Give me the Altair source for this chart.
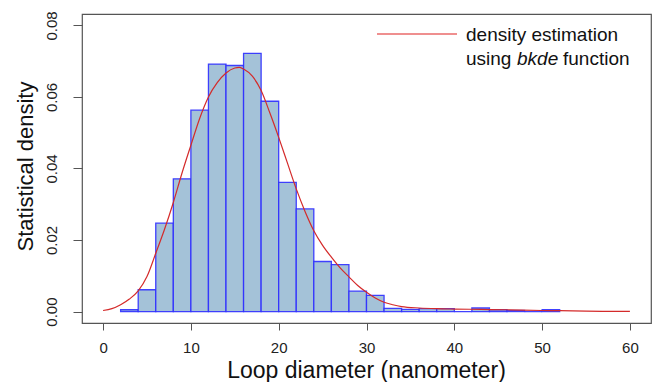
import altair as alt
import pandas as pd

# Histogram (bin start, density), bin width 2
bin_start = [2, 4, 6, 8, 10, 12, 14, 16, 18, 20, 22, 24, 26, 28, 30, 32, 34, 36, 38, 40, 42, 44, 46, 48, 50]
bin_density = [0.0005, 0.0061, 0.0247, 0.0371, 0.0563, 0.0692, 0.0688, 0.0722, 0.0588, 0.0361,
               0.0287, 0.0140, 0.0131, 0.0057, 0.0045, 0.0009, 0.0006, 0.0008, 0.0008, 0.0,
               0.0010, 0.0005, 0.0003, 0.0, 0.0005]
bin_width = 2

# Kernel density estimate
kde_x = [0, 1, 2, 3, 4, 5, 6, 7, 8, 9, 10, 11, 12, 13, 14, 15, 15.5, 16, 17, 18, 19, 20, 21, 22, 23,
         24, 25, 26, 27, 28, 29, 30, 31, 32, 33, 34, 36, 38, 40, 43, 46, 50, 52, 55, 60]
kde_y = [0.0003, 0.0008, 0.0019, 0.0035, 0.0058, 0.0098, 0.0163, 0.0230, 0.0305, 0.0388, 0.0465,
         0.0540, 0.0600, 0.0640, 0.0667, 0.0681, 0.0683, 0.0678, 0.0658, 0.0618, 0.0555, 0.0487,
         0.0415, 0.0343, 0.0280, 0.0226, 0.0185, 0.0152, 0.0122, 0.0097, 0.0073, 0.0054, 0.0038,
         0.0026, 0.0019, 0.0014, 0.0010, 0.0008, 0.0007, 0.0006, 0.0005, 0.0003, 0.00025, 0.00012, 0.00004]

x_ticks = [0, 10, 20, 30, 40, 50, 60]
y_ticks = [0.00, 0.02, 0.04, 0.06, 0.08]

legend_line1 = "density estimation"
legend_words = ["using", "bkde", "function"]

FONT = "Liberation Sans"

hist_df = pd.DataFrame({
    "x0": bin_start,
    "x1": [b + bin_width for b in bin_start],
    "d": bin_density,
})
kde_df = pd.DataFrame({"x": kde_x, "y": kde_y})
one = pd.DataFrame({"k": [0]})

xscale = alt.Scale(domain=[-2.4, 62.4], nice=False, zero=False)
yscale = alt.Scale(domain=[-0.0032, 0.0832], nice=False, zero=False)

xaxis = alt.Axis(values=x_ticks, title="Loop diameter (nanometer)", grid=False, domain=False,
                 tickSize=7, tickColor="#555555", labelFontSize=15, labelFont=FONT,
                 labelColor="#222222", labelBaseline="alphabetic", labelPadding=22,
                 titleFontSize=23, titleFont=FONT, titleFontWeight="normal", titleColor="#111111",
                 titleX=284, titleY=47, titleBaseline="middle", titleAlign="center")
yaxis = alt.Axis(values=y_ticks, format=".2f", title="Statistical density", grid=False, domain=False,
                 tickSize=9, tickColor="#555555", labelFontSize=15, labelFont=FONT,
                 labelColor="#222222", labelAngle=270, labelAlign="center",
                 labelBaseline="alphabetic", labelPadding=17,
                 titleFontSize=22, titleFont=FONT, titleFontWeight="normal", titleColor="#111111",
                 titleX=-57, titleY=152, titleBaseline="middle", titleAlign="center", titleAngle=270)

bars = alt.Chart(hist_df).mark_rect(
    fill="#a4c2d8", stroke="#2e2eff", strokeWidth=1.3, strokeOpacity=0.9
).encode(
    x=alt.X("x0:Q", scale=xscale, axis=xaxis),
    x2="x1:Q",
    y=alt.Y("d:Q", scale=yscale, axis=yaxis),
    y2=alt.datum(0),
)

curve = alt.Chart(kde_df).mark_line(
    color="#d42a2a", strokeWidth=1.2, interpolate="monotone"
).encode(
    x=alt.X("x:Q", scale=xscale),
    y=alt.Y("y:Q", scale=yscale),
)

leg_rule = alt.Chart(one).mark_rule(color="#e02020", strokeWidth=1.2).encode(
    x=alt.value(295), x2=alt.value(375), y=alt.value(20)
)
leg_t1 = alt.Chart(one).mark_text(
    text=legend_line1, font=FONT, fontSize=19, align="left", baseline="middle", color="#111111"
).encode(x=alt.value(384), y=alt.value(21))
leg_t2 = alt.Chart(one).mark_text(
    text=legend_words[0], font=FONT, fontSize=19, align="left", baseline="middle", color="#111111"
).encode(x=alt.value(384), y=alt.value(45))
leg_t3 = alt.Chart(one).mark_text(
    text=legend_words[1], font=FONT, fontSize=19, fontStyle="italic", align="left",
    baseline="middle", color="#111111"
).encode(x=alt.value(435), y=alt.value(45))
leg_t4 = alt.Chart(one).mark_text(
    text=legend_words[2], font=FONT, fontSize=19, align="left", baseline="middle", color="#111111"
).encode(x=alt.value(481), y=alt.value(45))

chart = alt.layer(bars, curve, leg_rule, leg_t1, leg_t2, leg_t3, leg_t4).properties(
    width=569, height=309,
    autosize=alt.AutoSizeParams(type="none"),
    padding={"left": 82, "top": 14, "right": 8, "bottom": 59},
    background="white",
).configure_view(stroke="#555555", strokeWidth=1.2)

chart.save("out.html", embed_options={"renderer": "svg", "actions": False})
